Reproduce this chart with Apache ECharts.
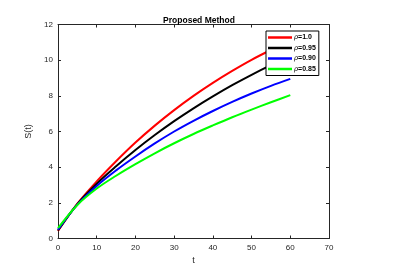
<!DOCTYPE html>
<html><head><meta charset="utf-8">
<script src="https://cdn.jsdelivr.net/npm/echarts@6/dist/echarts.min.js"></script>
<style>html,body{margin:0;padding:0;background:#fff}#c{width:395px;height:272px}</style>
</head><body><div id="c"></div>
<script>
var tValues = [0, 5, 10, 15, 20, 25, 30, 35, 40, 45, 50, 55, 60];
var rho100 = [0.42, 1.95, 3.2, 4.33, 5.38, 6.33, 7.2, 8.0, 8.73, 9.4, 10.02, 10.57, 11.07];
var rho095 = [0.45, 1.93, 3.07, 4.05, 4.96, 5.8, 6.58, 7.3, 7.97, 8.6, 9.18, 9.72, 10.22];
var rho090 = [0.5, 1.9, 2.95, 3.82, 4.6, 5.33, 6.0, 6.6, 7.15, 7.66, 8.13, 8.56, 8.95];
var rho085 = [0.58, 1.88, 2.8, 3.52, 4.17, 4.78, 5.34, 5.86, 6.34, 6.8, 7.23, 7.64, 8.04];
var seriesNames = ['ρ=1.0', 'ρ=0.95', 'ρ=0.90', 'ρ=0.85'];
var seriesColors = ['#ff0000', '#000000', '#0000ff', '#00ff00'];
var xTicks = [0, 10, 20, 30, 40, 50, 60, 70];
var yTicks = [0, 2, 4, 6, 8, 10, 12];

function pairs(ys) { return tValues.map(function (t, i) { return [t, ys[i]]; }); }
var allData = [rho100, rho095, rho090, rho085];
var axisCol = '#262626';
var fontFam = '"Liberation Sans", Arial, sans-serif';

var chart = echarts.init(document.getElementById('c'), null, {renderer: 'canvas'});
function xAx(pos, show) {
  return {
    type: 'value', position: pos, min: xTicks[0], max: xTicks[xTicks.length - 1], interval: 10,
    axisLine: {show: true, onZero: false, lineStyle: {color: axisCol, width: 1}},
    axisTick: {show: true, inside: true, length: 3, lineStyle: {color: axisCol}},
    axisLabel: {show: show, color: axisCol, fontSize: 8, fontFamily: fontFam, margin: 5},
    splitLine: {show: false},
    name: show ? 't' : '', nameLocation: 'middle', nameGap: 16,
    nameTextStyle: {color: axisCol, fontSize: 9, fontFamily: fontFam}
  };
}
function yAx(pos, show) {
  return {
    type: 'value', position: pos, min: yTicks[0], max: yTicks[yTicks.length - 1], interval: 2,
    axisLine: {show: true, onZero: false, lineStyle: {color: axisCol, width: 1}},
    axisTick: {show: true, inside: true, length: 3, lineStyle: {color: axisCol}},
    axisLabel: {show: show, color: axisCol, fontSize: 8, fontFamily: fontFam, margin: 5},
    splitLine: {show: false},
    name: show ? 'S(t)' : '', nameLocation: 'middle', nameGap: 13,
    nameTextStyle: {color: axisCol, fontSize: 9, fontFamily: fontFam}
  };
}
var series = allData.map(function (d, i) {
  return {
    name: seriesNames[i], type: 'line', data: pairs(d), smooth: 0.35,
    showSymbol: false, symbol: 'none',
    lineStyle: {color: seriesColors[i], width: 2},
    itemStyle: {color: seriesColors[i]},
    xAxisIndex: 0, yAxisIndex: 0, z: 3
  };
});
chart.setOption({
  animation: false,
  backgroundColor: '#ffffff',
  title: {
    text: 'Proposed Method', left: 194, top: 11, textAlign: 'center',
    textStyle: {fontSize: 8.5, fontWeight: 'bold', color: '#000', fontFamily: fontFam}
  },
  grid: {left: 58, right: 66, top: 24.5, bottom: 33.5, containLabel: false},
  xAxis: [xAx('bottom', true), xAx('top', false)],
  yAxis: [yAx('left', true), yAx('right', false)],
  legend: {
    orient: 'vertical', left: 266, top: 31,
    backgroundColor: '#ffffff', borderColor: '#000', borderWidth: 1,
    padding: [3, 3, 3, 2], itemGap: 3.5, itemWidth: 24, itemHeight: 8,
    icon: 'path://M0,3.5 L24,3.5 L24,6 L0,6 Z',
    data: seriesNames.map(function (n, i) { return {name: n, itemStyle: {color: seriesColors[i]}}; }),
    formatter: function (n) {
      var parts = n.split('=');
      return '{i|' + parts[0] + '}{b|=' + parts[1] + '}';
    },
    textStyle: {
      fontSize: 7, color: '#000', fontFamily: fontFam, padding: [0, 0, 0, -3],
      rich: {
        i: {fontStyle: 'italic', fontSize: 7, color: '#000', fontFamily: '"DejaVu Serif", serif'},
        b: {fontWeight: 'bold', fontSize: 7, color: '#000', fontFamily: fontFam}
      }
    }
  },
  series: series
});
</script></body></html>
